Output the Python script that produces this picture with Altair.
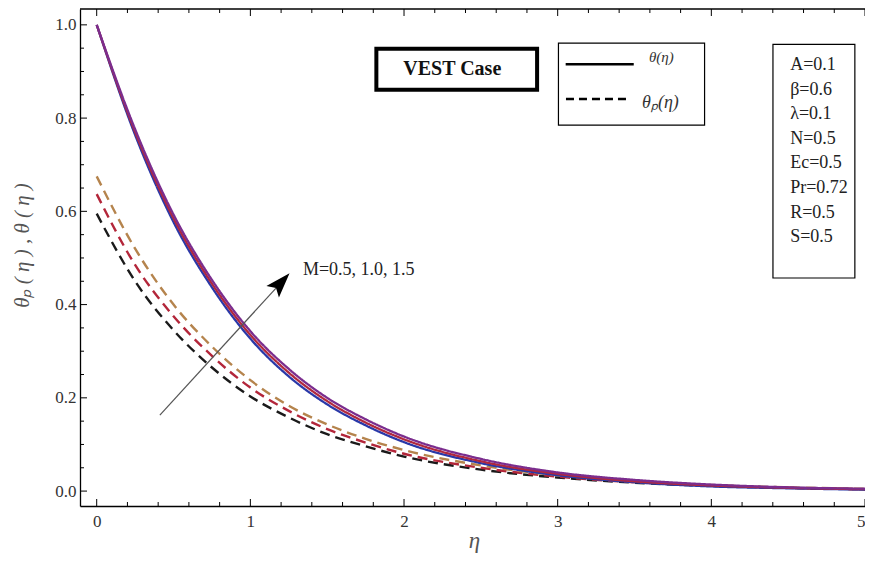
import altair as alt
import pandas as pd

# ---------------- data ----------------
eta = [0, 0.25, 0.5, 0.75, 1.0, 1.25, 1.5, 1.75, 2.0, 2.5, 3.0, 3.5, 4.0, 4.5, 5.0]

# theta(eta), solid curves
theta_purple = [1.0, 0.776, 0.593, 0.453, 0.343, 0.262, 0.200, 0.154, 0.117, 0.069, 0.040, 0.024, 0.014, 0.008, 0.005]
theta_red    = [1.0, 0.770, 0.585, 0.445, 0.335, 0.254, 0.193, 0.147, 0.111, 0.064, 0.037, 0.021, 0.012, 0.007, 0.004]
theta_blue   = [1.0, 0.764, 0.577, 0.437, 0.327, 0.246, 0.186, 0.141, 0.105, 0.060, 0.034, 0.019, 0.010, 0.006, 0.003]

# theta_p(eta), dashed curves
thetap_m15 = [0.675, 0.520, 0.400, 0.310, 0.238, 0.183, 0.143, 0.112, 0.088, 0.055, 0.034, 0.021, 0.013, 0.008, 0.005]
thetap_m10 = [0.637, 0.485, 0.375, 0.290, 0.222, 0.172, 0.133, 0.104, 0.080, 0.050, 0.031, 0.019, 0.012, 0.007, 0.004]
thetap_m05 = [0.595, 0.450, 0.345, 0.265, 0.203, 0.158, 0.122, 0.096, 0.074, 0.046, 0.029, 0.018, 0.011, 0.007, 0.004]

series_names = ["tp05", "tp10", "tp15", "tb", "tr", "tpu"]
series_vals = [thetap_m05, thetap_m10, thetap_m15, theta_blue, theta_red, theta_purple]
series_kind = ["dashed", "dashed", "dashed", "solid", "solid", "solid"]
series_colors = ["#1a1a1a", "#b3263a", "#b5844d", "#2a38a8", "#b0283e", "#7b2d8e"]

x_major = [0, 1, 2, 3, 4, 5]
x_minor = [0.2, 0.4, 0.6, 0.8, 1.2, 1.4, 1.6, 1.8, 2.2, 2.4, 2.6, 2.8,
           3.2, 3.4, 3.6, 3.8, 4.2, 4.4, 4.6, 4.8]
y_major = [0.0, 0.2, 0.4, 0.6, 0.8, 1.0]
y_minor = [0.05, 0.1, 0.15, 0.25, 0.3, 0.35, 0.45, 0.5, 0.55, 0.65, 0.7, 0.75,
           0.85, 0.9, 0.95]

params = ["A=0.1", "β=0.6", "λ=0.1", "N=0.5", "Ec=0.5", "Pr=0.72", "R=0.5", "S=0.5"]

# ---------------- build table ----------------
rows = []
for name, vals, kind in zip(series_names, series_vals, series_kind):
    for e, v in zip(eta, vals):
        rows.append({"eta": e, "val": v, "series": name, "kind": kind})
df = pd.DataFrame(rows)

W, H = 785, 497
SERIF = "Liberation Serif"

xs = alt.Scale(domain=[-0.1087, 5.0], nice=False, zero=False)
ys = alt.Scale(domain=[-0.032, 1.034], nice=False, zero=False)

lines = alt.Chart(df).mark_line(interpolate="monotone", clip=True).encode(
    x=alt.X("eta:Q", scale=xs, axis=alt.Axis(
        orient="bottom",
        values=x_major, format="d", grid=False, ticks=False,
        domain=True, domainColor="black", domainWidth=1.3,
        labelFont=SERIF, labelFontSize=17, labelColor="#333", labelPadding=7,
        title="η", titleFont=SERIF, titleFontStyle="italic", titleFontWeight="normal",
        titleFontSize=23, titleColor="#555", titleX=394, titleY=34,
        titleBaseline="middle")),
    y=alt.Y("val:Q", scale=ys, axis=alt.Axis(
        orient="left",
        values=y_major, format=".1f", grid=False, ticks=False,
        domain=True, domainColor="black", domainWidth=1.3,
        labelFont=SERIF, labelFontSize=17, labelColor="#333", labelPadding=4,
        title="θₚ ( η ) , θ ( η )", titleFont=SERIF, titleFontStyle="italic",
        titleFontWeight="normal", titleFontSize=21, titleColor="#555",
        titleX=-58, titleY=236, titleBaseline="middle", titleAlign="center")),
    color=alt.Color("series:N", scale=alt.Scale(domain=series_names, range=series_colors), legend=None),
    strokeDash=alt.StrokeDash("kind:N", scale=alt.Scale(domain=["solid", "dashed"], range=[[1, 0], [10, 6]]), legend=None),
    strokeWidth=alt.StrokeWidth("kind:N", scale=alt.Scale(domain=["solid", "dashed"], range=[2.3, 2.4]), legend=None),
)


def xtick(vals, y0, y1):
    return alt.Chart(pd.DataFrame({"v": vals})).mark_rule(color="black", strokeWidth=1).encode(
        x=alt.X("v:Q", scale=xs, axis=None), y=alt.value(y0), y2=alt.value(y1))


def ytick(vals, length):
    return alt.Chart(pd.DataFrame({"v": vals})).mark_rule(color="black", strokeWidth=1).encode(
        y=alt.Y("v:Q", scale=ys, axis=None), x=alt.value(0), x2=alt.value(length))


ticks = [
    xtick(x_major, H, H - 7), xtick(x_minor, H, H - 4),
    xtick(x_major, 0, 7), xtick(x_minor, 0, 4),
    ytick(y_major, 7), ytick(y_minor, 4),
]

top_frame = alt.Chart().mark_rule(color="black", strokeWidth=1.3).encode(
    x=alt.value(0), x2=alt.value(W), y=alt.value(0))


def XD(v):
    return alt.XDatum(v, scale=xs, axis=None)


def YD(v):
    return alt.YDatum(v, scale=ys, axis=None)


# VEST Case box
vest_box = alt.Chart().mark_rect(fill="white", stroke="black", strokeWidth=4).encode(
    x=XD(1.82), x2=alt.X2Datum(2.866), y=YD(0.949), y2=alt.Y2Datum(0.861))
vest_text = alt.Chart().mark_text(font=SERIF, fontSize=20, fontWeight="bold", color="#111").encode(
    x=XD(2.314), y=YD(0.9056), text=alt.value("VEST Case"))

# legend box
leg_box = alt.Chart().mark_rect(fill="white", stroke="black", strokeWidth=1.2).encode(
    x=XD(3.005), x2=alt.X2Datum(3.956), y=YD(0.961), y2=alt.Y2Datum(0.785))
leg_solid = alt.Chart().mark_rule(color="black", strokeWidth=2.6).encode(
    x=XD(3.052), x2=alt.X2Datum(3.495), y=YD(0.9156))
leg_dash = alt.Chart().mark_rule(color="black", strokeWidth=2.4, strokeDash=[8, 5]).encode(
    x=XD(3.054), x2=alt.X2Datum(3.463), y=YD(0.841))
leg_t1 = alt.Chart().mark_text(font=SERIF, fontSize=15, fontStyle="italic", color="#333").encode(
    x=XD(3.675), y=YD(0.932), text=alt.value("θ(η)"))
leg_t2 = alt.Chart().mark_text(font=SERIF, fontSize=18, fontStyle="italic", color="#333").encode(
    x=XD(3.669), y=YD(0.833), text=alt.value("θₚ(η)"))

# parameter box
par_box = alt.Chart().mark_rect(fill="white", stroke="black", strokeWidth=1.2).encode(
    x=XD(4.401), x2=alt.X2Datum(4.934), y=YD(0.958), y2=alt.Y2Datum(0.457))
par_text = alt.Chart().mark_text(font=SERIF, fontSize=18, color="#222", align="left",
                                 baseline="middle", lineHeight=24.6).encode(
    x=XD(4.513), y=YD(0.914), text=alt.value(params))

# arrow and its label
arrow_line = alt.Chart().mark_rule(color="#555", strokeWidth=1.2).encode(
    x=XD(0.411), y=YD(0.163), x2=alt.X2Datum(1.176), y2=alt.Y2Datum(0.4386))
arrow_head = alt.Chart().mark_point(shape="M0,0L0.34,1L0,0.8L-0.34,1Z", filled=True,
                                    color="black", opacity=1, size=2500, angle=42.5).encode(
    x=XD(1.255), y=YD(0.467))
arrow_text = alt.Chart().mark_text(font=SERIF, fontSize=18, color="#222", align="left",
                                   baseline="middle").encode(
    x=XD(1.342), y=YD(0.474), text=alt.value("M=0.5, 1.0, 1.5"))

chart = alt.layer(
    lines, *ticks, top_frame,
    vest_box, vest_text, leg_box, leg_solid, leg_dash, leg_t1, leg_t2,
    par_box, par_text, arrow_line, arrow_head, arrow_text,
).resolve_axis(
    x="independent", y="independent"
).properties(
    width=W, height=H,
    padding={"left": 72, "top": 1, "right": 0, "bottom": 50},
    autosize=alt.AutoSizeParams(type="none"),
    background="white",
).configure_view(stroke=None)

chart.save("out.html", embed_options={"renderer": "svg", "actions": False})
